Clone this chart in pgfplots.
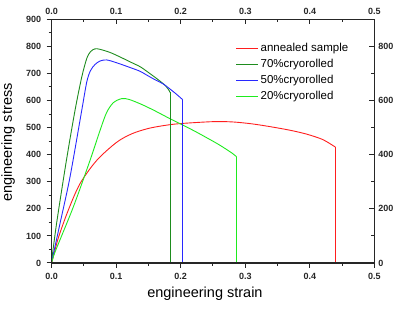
\documentclass[border=0pt]{standalone}
\usepackage{pgfplots}
\pgfplotsset{compat=1.18}
\usepackage{fontspec}
\setmainfont{Liberation Sans}
\definecolor{cRed}{RGB}{255,30,30}
\definecolor{cDark}{RGB}{30,140,30}
\definecolor{cBlue}{RGB}{40,40,255}
\definecolor{cLight}{RGB}{30,235,30}
\begin{document}
\begin{tikzpicture}
\pgfplotsset{
  common/.style={
    at={(0,0)}, anchor=south west,
    scale only axis, width=322.6pt, height=243.7pt,
    xmin=0, xmax=0.5, ymin=0, ymax=900,
    major tick length=5pt, minor tick length=3pt,
    axis line style={line width=1.2pt, color=black!85},
    every tick/.style={line width=1pt, black!85},
    ticklabel style={font=\fontsize{9}{10}\selectfont\bfseries, color=black!85},
    /pgf/number format/assume math mode=true,
    x tick label style={/pgf/number format/fixed, /pgf/number format/fixed zerofill, /pgf/number format/precision=1},
    y tick label style={/pgf/number format/fixed},
    scaled ticks=false,
    xtick={0,0.1,0.2,0.3,0.4,0.5}, minor x tick num=1,
  }
}
\begin{axis}[common,
  ytick={0,100,200,300,400,500,600,700,800,900}, minor y tick num=1,
  xtick pos=bottom, ytick pos=left,
  tick align=outside,
  y tick label style={xshift=-2pt},
  x tick label style={yshift=-2pt},
  xlabel={engineering strain},
  ylabel={engineering stress},
  label style={font=\fontsize{14.5}{16}\selectfont},
  xlabel style={at={(axis description cs:0.475,-0.1408)}, anchor=base},
  ylabel style={at={(axis description cs:-0.1231,0.494)}, anchor=base},
  legend style={at={(0.56,0.919)}, anchor=north west, draw=none, fill=none,
    font=\fontsize{11.5}{13}\selectfont, row sep=2.2pt},
  legend cell align=left,
  legend image post style={xscale=1.3},
]
\addplot[color=cRed, line width=0.9pt, smooth, tension=0.5] coordinates {
(0,0) (0.0102,92) (0.0257,195) (0.0439,293) (0.0698,379) (0.1008,446)
(0.125,478) (0.15,497) (0.175,508) (0.2,515) (0.25,522) (0.28,521) (0.31,514)
(0.34,503) (0.37,490) (0.395,476) (0.42,456) (0.4397,428)};
\addlegendentry{annealed sample}
\addplot[color=cDark, line width=0.9pt, smooth, tension=0.5] coordinates {
(0,10) (0.0078,150) (0.0228,379) (0.0361,563) (0.0465,686) (0.0543,755)
(0.06,780) (0.067,791) (0.075,789) (0.09,778) (0.105,762) (0.1214,743) (0.137,725)
(0.1473,708) (0.16,686) (0.173,662) (0.178,650) (0.1823,636) (0.1834,630)};
\addlegendentry{70\%cryorolled}
\addplot[color=cBlue, line width=0.9pt, smooth, tension=0.5] coordinates {
(0,5) (0.0129,146) (0.0284,318) (0.0465,563) (0.0543,668) (0.06,710) (0.0671,733)
(0.075,746) (0.085,750) (0.1,740) (0.1214,722) (0.137,708) (0.1473,694) (0.16,677)
(0.173,661) (0.19,630) (0.2031,603)};
\addlegendentry{50\%cryorolled}
\addplot[color=cLight, line width=0.9pt, smooth, tension=0.5] coordinates {
(0,0) (0.0051,40) (0.0335,207) (0.0594,379) (0.075,490) (0.085,555) (0.0955,592)
(0.1085,607) (0.12,604) (0.14,585) (0.16,562) (0.18,537) (0.2,513) (0.22,489)
(0.24,463) (0.26,436) (0.28,405) (0.2865,392)};
\addlegendentry{20\%cryorolled}
\addplot[cRed, line width=0.9pt, forget plot] coordinates {(0.4397,428) (0.4397,0)};
\addplot[cDark, line width=0.9pt, forget plot] coordinates {(0.1834,630) (0.1834,0)};
\addplot[cBlue, line width=0.9pt, forget plot] coordinates {(0.2031,603) (0.2031,0)};
\addplot[cLight, line width=0.9pt, forget plot] coordinates {(0.2865,392) (0.2865,0)};
\end{axis}
\begin{axis}[common,
  ytick={0,200,400,600,800}, minor y tick num=1,
  xtick pos=top, ytick pos=right,
  xticklabel pos=top, yticklabel pos=right,
  tick align=inside,
  x tick label style={yshift=1pt},
  y tick label style={xshift=0.5pt},
]
\end{axis}
\pgfresetboundingbox
\useasboundingbox (-51.7pt,-47pt) rectangle (360.3pt,263pt);
\end{tikzpicture}
\end{document}
